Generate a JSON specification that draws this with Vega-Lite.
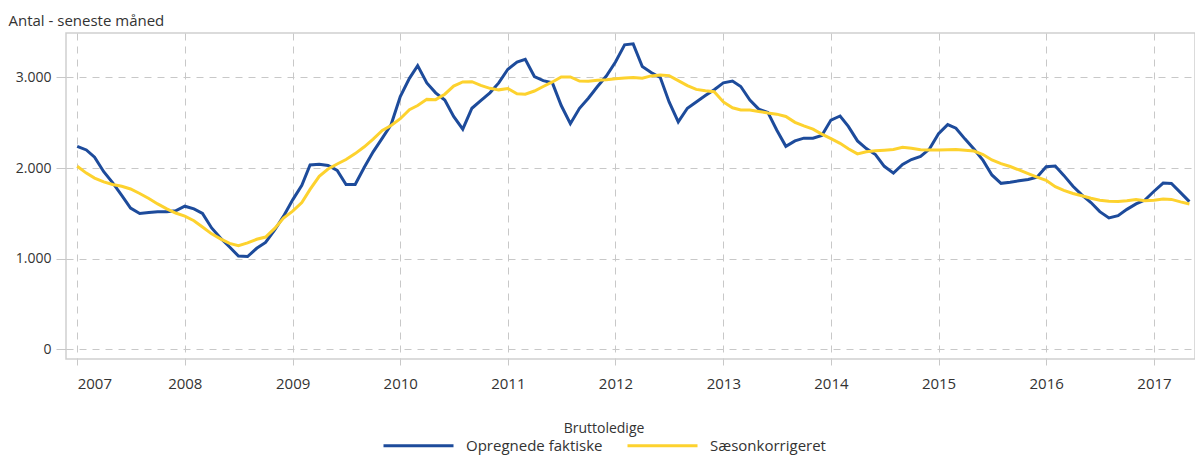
{
  "$schema": "https://vega.github.io/schema/vega-lite/v6.json",
  "width": 1129,
  "height": 326,
  "autosize": {"type": "none"},
  "padding": {"left": 66, "top": 33, "right": 0, "bottom": 97},
  "background": "white",
  "data": {
    "values": [
      {"d": "2007-01-01", "Opregnede faktiske": 2240, "Sæsonkorrigeret": 2020},
      {"d": "2007-02-01", "Opregnede faktiske": 2200, "Sæsonkorrigeret": 1945},
      {"d": "2007-03-01", "Opregnede faktiske": 2120, "Sæsonkorrigeret": 1890},
      {"d": "2007-04-01", "Opregnede faktiske": 1960, "Sæsonkorrigeret": 1848},
      {"d": "2007-05-01", "Opregnede faktiske": 1840, "Sæsonkorrigeret": 1820},
      {"d": "2007-06-01", "Opregnede faktiske": 1700, "Sæsonkorrigeret": 1800},
      {"d": "2007-07-01", "Opregnede faktiske": 1560, "Sæsonkorrigeret": 1770},
      {"d": "2007-08-01", "Opregnede faktiske": 1500, "Sæsonkorrigeret": 1720},
      {"d": "2007-09-01", "Opregnede faktiske": 1510, "Sæsonkorrigeret": 1665},
      {"d": "2007-10-01", "Opregnede faktiske": 1520, "Sæsonkorrigeret": 1605},
      {"d": "2007-11-01", "Opregnede faktiske": 1520, "Sæsonkorrigeret": 1550},
      {"d": "2007-12-01", "Opregnede faktiske": 1530, "Sæsonkorrigeret": 1505},
      {"d": "2008-01-01", "Opregnede faktiske": 1580, "Sæsonkorrigeret": 1470},
      {"d": "2008-02-01", "Opregnede faktiske": 1550, "Sæsonkorrigeret": 1420},
      {"d": "2008-03-01", "Opregnede faktiske": 1500, "Sæsonkorrigeret": 1350},
      {"d": "2008-04-01", "Opregnede faktiske": 1340, "Sæsonkorrigeret": 1275},
      {"d": "2008-05-01", "Opregnede faktiske": 1230, "Sæsonkorrigeret": 1220},
      {"d": "2008-06-01", "Opregnede faktiske": 1130, "Sæsonkorrigeret": 1170},
      {"d": "2008-07-01", "Opregnede faktiske": 1030, "Sæsonkorrigeret": 1145},
      {"d": "2008-08-01", "Opregnede faktiske": 1025, "Sæsonkorrigeret": 1175},
      {"d": "2008-09-01", "Opregnede faktiske": 1116, "Sæsonkorrigeret": 1215},
      {"d": "2008-10-01", "Opregnede faktiske": 1180, "Sæsonkorrigeret": 1240},
      {"d": "2008-11-01", "Opregnede faktiske": 1318, "Sæsonkorrigeret": 1335},
      {"d": "2008-12-01", "Opregnede faktiske": 1470, "Sæsonkorrigeret": 1450},
      {"d": "2009-01-01", "Opregnede faktiske": 1650, "Sæsonkorrigeret": 1525},
      {"d": "2009-02-01", "Opregnede faktiske": 1810, "Sæsonkorrigeret": 1620},
      {"d": "2009-03-01", "Opregnede faktiske": 2035, "Sæsonkorrigeret": 1765},
      {"d": "2009-04-01", "Opregnede faktiske": 2042, "Sæsonkorrigeret": 1910},
      {"d": "2009-05-01", "Opregnede faktiske": 2030, "Sæsonkorrigeret": 1990},
      {"d": "2009-06-01", "Opregnede faktiske": 1975, "Sæsonkorrigeret": 2045},
      {"d": "2009-07-01", "Opregnede faktiske": 1820, "Sæsonkorrigeret": 2095},
      {"d": "2009-08-01", "Opregnede faktiske": 1820, "Sæsonkorrigeret": 2160},
      {"d": "2009-09-01", "Opregnede faktiske": 2010, "Sæsonkorrigeret": 2235},
      {"d": "2009-10-01", "Opregnede faktiske": 2180, "Sæsonkorrigeret": 2320},
      {"d": "2009-11-01", "Opregnede faktiske": 2330, "Sæsonkorrigeret": 2415},
      {"d": "2009-12-01", "Opregnede faktiske": 2480, "Sæsonkorrigeret": 2470},
      {"d": "2010-01-01", "Opregnede faktiske": 2790, "Sæsonkorrigeret": 2545},
      {"d": "2010-02-01", "Opregnede faktiske": 2990, "Sæsonkorrigeret": 2645},
      {"d": "2010-03-01", "Opregnede faktiske": 3130, "Sæsonkorrigeret": 2690},
      {"d": "2010-04-01", "Opregnede faktiske": 2940, "Sæsonkorrigeret": 2758},
      {"d": "2010-05-01", "Opregnede faktiske": 2830, "Sæsonkorrigeret": 2755},
      {"d": "2010-06-01", "Opregnede faktiske": 2750, "Sæsonkorrigeret": 2815},
      {"d": "2010-07-01", "Opregnede faktiske": 2570, "Sæsonkorrigeret": 2905},
      {"d": "2010-08-01", "Opregnede faktiske": 2430, "Sæsonkorrigeret": 2950},
      {"d": "2010-09-01", "Opregnede faktiske": 2660, "Sæsonkorrigeret": 2953},
      {"d": "2010-10-01", "Opregnede faktiske": 2745, "Sæsonkorrigeret": 2912},
      {"d": "2010-11-01", "Opregnede faktiske": 2830, "Sæsonkorrigeret": 2880},
      {"d": "2010-12-01", "Opregnede faktiske": 2940, "Sæsonkorrigeret": 2863},
      {"d": "2011-01-01", "Opregnede faktiske": 3090, "Sæsonkorrigeret": 2878},
      {"d": "2011-02-01", "Opregnede faktiske": 3170, "Sæsonkorrigeret": 2820},
      {"d": "2011-03-01", "Opregnede faktiske": 3200, "Sæsonkorrigeret": 2815},
      {"d": "2011-04-01", "Opregnede faktiske": 3010, "Sæsonkorrigeret": 2850},
      {"d": "2011-05-01", "Opregnede faktiske": 2965, "Sæsonkorrigeret": 2900},
      {"d": "2011-06-01", "Opregnede faktiske": 2940, "Sæsonkorrigeret": 2950},
      {"d": "2011-07-01", "Opregnede faktiske": 2690, "Sæsonkorrigeret": 3005},
      {"d": "2011-08-01", "Opregnede faktiske": 2490, "Sæsonkorrigeret": 3005},
      {"d": "2011-09-01", "Opregnede faktiske": 2660, "Sæsonkorrigeret": 2960},
      {"d": "2011-10-01", "Opregnede faktiske": 2770, "Sæsonkorrigeret": 2958},
      {"d": "2011-11-01", "Opregnede faktiske": 2900, "Sæsonkorrigeret": 2968},
      {"d": "2011-12-01", "Opregnede faktiske": 3015, "Sæsonkorrigeret": 2975},
      {"d": "2012-01-01", "Opregnede faktiske": 3170, "Sæsonkorrigeret": 2985},
      {"d": "2012-02-01", "Opregnede faktiske": 3360, "Sæsonkorrigeret": 2995},
      {"d": "2012-03-01", "Opregnede faktiske": 3370, "Sæsonkorrigeret": 3000},
      {"d": "2012-04-01", "Opregnede faktiske": 3120, "Sæsonkorrigeret": 2992},
      {"d": "2012-05-01", "Opregnede faktiske": 3055, "Sæsonkorrigeret": 3017},
      {"d": "2012-06-01", "Opregnede faktiske": 3000, "Sæsonkorrigeret": 3026},
      {"d": "2012-07-01", "Opregnede faktiske": 2730, "Sæsonkorrigeret": 3020},
      {"d": "2012-08-01", "Opregnede faktiske": 2510, "Sæsonkorrigeret": 2965},
      {"d": "2012-09-01", "Opregnede faktiske": 2660, "Sæsonkorrigeret": 2910},
      {"d": "2012-10-01", "Opregnede faktiske": 2730, "Sæsonkorrigeret": 2868},
      {"d": "2012-11-01", "Opregnede faktiske": 2800, "Sæsonkorrigeret": 2852},
      {"d": "2012-12-01", "Opregnede faktiske": 2865, "Sæsonkorrigeret": 2843},
      {"d": "2013-01-01", "Opregnede faktiske": 2940, "Sæsonkorrigeret": 2730},
      {"d": "2013-02-01", "Opregnede faktiske": 2960, "Sæsonkorrigeret": 2665},
      {"d": "2013-03-01", "Opregnede faktiske": 2900, "Sæsonkorrigeret": 2641},
      {"d": "2013-04-01", "Opregnede faktiske": 2750, "Sæsonkorrigeret": 2641},
      {"d": "2013-05-01", "Opregnede faktiske": 2650, "Sæsonkorrigeret": 2625},
      {"d": "2013-06-01", "Opregnede faktiske": 2615, "Sæsonkorrigeret": 2608},
      {"d": "2013-07-01", "Opregnede faktiske": 2420, "Sæsonkorrigeret": 2595},
      {"d": "2013-08-01", "Opregnede faktiske": 2240, "Sæsonkorrigeret": 2570},
      {"d": "2013-09-01", "Opregnede faktiske": 2300, "Sæsonkorrigeret": 2505},
      {"d": "2013-10-01", "Opregnede faktiske": 2330, "Sæsonkorrigeret": 2465},
      {"d": "2013-11-01", "Opregnede faktiske": 2330, "Sæsonkorrigeret": 2430},
      {"d": "2013-12-01", "Opregnede faktiske": 2360, "Sæsonkorrigeret": 2375},
      {"d": "2014-01-01", "Opregnede faktiske": 2530, "Sæsonkorrigeret": 2325},
      {"d": "2014-02-01", "Opregnede faktiske": 2575, "Sæsonkorrigeret": 2273},
      {"d": "2014-03-01", "Opregnede faktiske": 2460, "Sæsonkorrigeret": 2213},
      {"d": "2014-04-01", "Opregnede faktiske": 2300, "Sæsonkorrigeret": 2157},
      {"d": "2014-05-01", "Opregnede faktiske": 2215, "Sæsonkorrigeret": 2181},
      {"d": "2014-06-01", "Opregnede faktiske": 2150, "Sæsonkorrigeret": 2192},
      {"d": "2014-07-01", "Opregnede faktiske": 2020, "Sæsonkorrigeret": 2198},
      {"d": "2014-08-01", "Opregnede faktiske": 1945, "Sæsonkorrigeret": 2205},
      {"d": "2014-09-01", "Opregnede faktiske": 2040, "Sæsonkorrigeret": 2230},
      {"d": "2014-10-01", "Opregnede faktiske": 2095, "Sæsonkorrigeret": 2220},
      {"d": "2014-11-01", "Opregnede faktiske": 2130, "Sæsonkorrigeret": 2203},
      {"d": "2014-12-01", "Opregnede faktiske": 2210, "Sæsonkorrigeret": 2200},
      {"d": "2015-01-01", "Opregnede faktiske": 2380, "Sæsonkorrigeret": 2200},
      {"d": "2015-02-01", "Opregnede faktiske": 2480, "Sæsonkorrigeret": 2203},
      {"d": "2015-03-01", "Opregnede faktiske": 2440, "Sæsonkorrigeret": 2205},
      {"d": "2015-04-01", "Opregnede faktiske": 2320, "Sæsonkorrigeret": 2198},
      {"d": "2015-05-01", "Opregnede faktiske": 2210, "Sæsonkorrigeret": 2188},
      {"d": "2015-06-01", "Opregnede faktiske": 2085, "Sæsonkorrigeret": 2150},
      {"d": "2015-07-01", "Opregnede faktiske": 1925, "Sæsonkorrigeret": 2090},
      {"d": "2015-08-01", "Opregnede faktiske": 1832, "Sæsonkorrigeret": 2050},
      {"d": "2015-09-01", "Opregnede faktiske": 1843, "Sæsonkorrigeret": 2018},
      {"d": "2015-10-01", "Opregnede faktiske": 1860, "Sæsonkorrigeret": 1980},
      {"d": "2015-11-01", "Opregnede faktiske": 1875, "Sæsonkorrigeret": 1940},
      {"d": "2015-12-01", "Opregnede faktiske": 1900, "Sæsonkorrigeret": 1900},
      {"d": "2016-01-01", "Opregnede faktiske": 2015, "Sæsonkorrigeret": 1865},
      {"d": "2016-02-01", "Opregnede faktiske": 2023, "Sæsonkorrigeret": 1795},
      {"d": "2016-03-01", "Opregnede faktiske": 1920, "Sæsonkorrigeret": 1755},
      {"d": "2016-04-01", "Opregnede faktiske": 1800, "Sæsonkorrigeret": 1720},
      {"d": "2016-05-01", "Opregnede faktiske": 1705, "Sæsonkorrigeret": 1695},
      {"d": "2016-06-01", "Opregnede faktiske": 1620, "Sæsonkorrigeret": 1668},
      {"d": "2016-07-01", "Opregnede faktiske": 1520, "Sæsonkorrigeret": 1645},
      {"d": "2016-08-01", "Opregnede faktiske": 1450, "Sæsonkorrigeret": 1634},
      {"d": "2016-09-01", "Opregnede faktiske": 1475, "Sæsonkorrigeret": 1632},
      {"d": "2016-10-01", "Opregnede faktiske": 1545, "Sæsonkorrigeret": 1640},
      {"d": "2016-11-01", "Opregnede faktiske": 1605, "Sæsonkorrigeret": 1655},
      {"d": "2016-12-01", "Opregnede faktiske": 1648, "Sæsonkorrigeret": 1640},
      {"d": "2017-01-01", "Opregnede faktiske": 1745, "Sæsonkorrigeret": 1645},
      {"d": "2017-02-01", "Opregnede faktiske": 1835, "Sæsonkorrigeret": 1660},
      {"d": "2017-03-01", "Opregnede faktiske": 1830, "Sæsonkorrigeret": 1655},
      {"d": "2017-04-01", "Opregnede faktiske": 1730, "Sæsonkorrigeret": 1628},
      {"d": "2017-05-01", "Opregnede faktiske": 1630, "Sæsonkorrigeret": 1605}
    ]
  },
  "transform": [
    {"fold": ["Opregnede faktiske", "Sæsonkorrigeret"], "as": ["serie", "antal"]}
  ],
  "mark": {"type": "line", "strokeWidth": 3, "clip": true},
  "encoding": {
    "x": {
      "field": "d",
      "type": "temporal",
      "scale": {
        "domain": [
          {"year": 2006, "month": 11, "date": 24},
          {"year": 2017, "month": 5, "date": 20}
        ]
      },
      "axis": {
        "title": null,
        "format": "%Y",
        "tickCount": {"interval": "year", "step": 1},
        "grid": true,
        "gridDash": [7, 6],
        "gridColor": "#c8c8c8",
        "domain": false,
        "tickColor": "#c8c8c8",
        "tickSize": 6,
        "labelFontSize": 15,
        "labelColor": "#333333",
        "labelPadding": 11,
        "labelFlush": 15
      }
    },
    "y": {
      "field": "antal",
      "type": "quantitative",
      "scale": {"domain": [-105, 3490], "nice": false, "zero": false},
      "axis": {
        "title": "Antal - seneste måned",
        "titleAngle": 0,
        "titleX": -58,
        "titleY": -13,
        "titleAlign": "left",
        "titleBaseline": "middle",
        "titleFontSize": 15,
        "titleFontWeight": "normal",
        "titleColor": "#333333",
        "values": [0, 1000, 2000, 3000],
        "labelExpr": "replace(format(datum.value, ','), ',', '.')",
        "grid": true,
        "gridDash": [7, 6],
        "gridColor": "#c8c8c8",
        "domain": false,
        "tickColor": "#c8c8c8",
        "tickSize": 10,
        "labelPadding": 5,
        "labelFontSize": 14,
        "labelColor": "#333333"
      }
    },
    "color": {
      "field": "serie",
      "type": "nominal",
      "scale": {
        "domain": ["Opregnede faktiske", "Sæsonkorrigeret"],
        "range": ["#1d4b9b", "#fdd22e"]
      },
      "legend": {
        "orient": "none",
        "legendX": 316,
        "legendY": 389,
        "direction": "horizontal",
        "title": "Bruttoledige",
        "titleAnchor": "middle",
        "titleOrient": "top",
        "titleFontSize": 14,
        "titleFontWeight": "normal",
        "titleColor": "#333333",
        "titlePadding": -27,
        "symbolType": "stroke",
        "symbolSize": 4900,
        "symbolStrokeWidth": 3,
        "labelFontSize": 15,
        "labelColor": "#333333",
        "labelOffset": 11,
        "columnPadding": 18,
        "padding": 0
      }
    }
  },
  "config": {
    "font": "Open Sans",
    "view": {"stroke": "#cfcfcf", "strokeWidth": 1.5}
  }
}
